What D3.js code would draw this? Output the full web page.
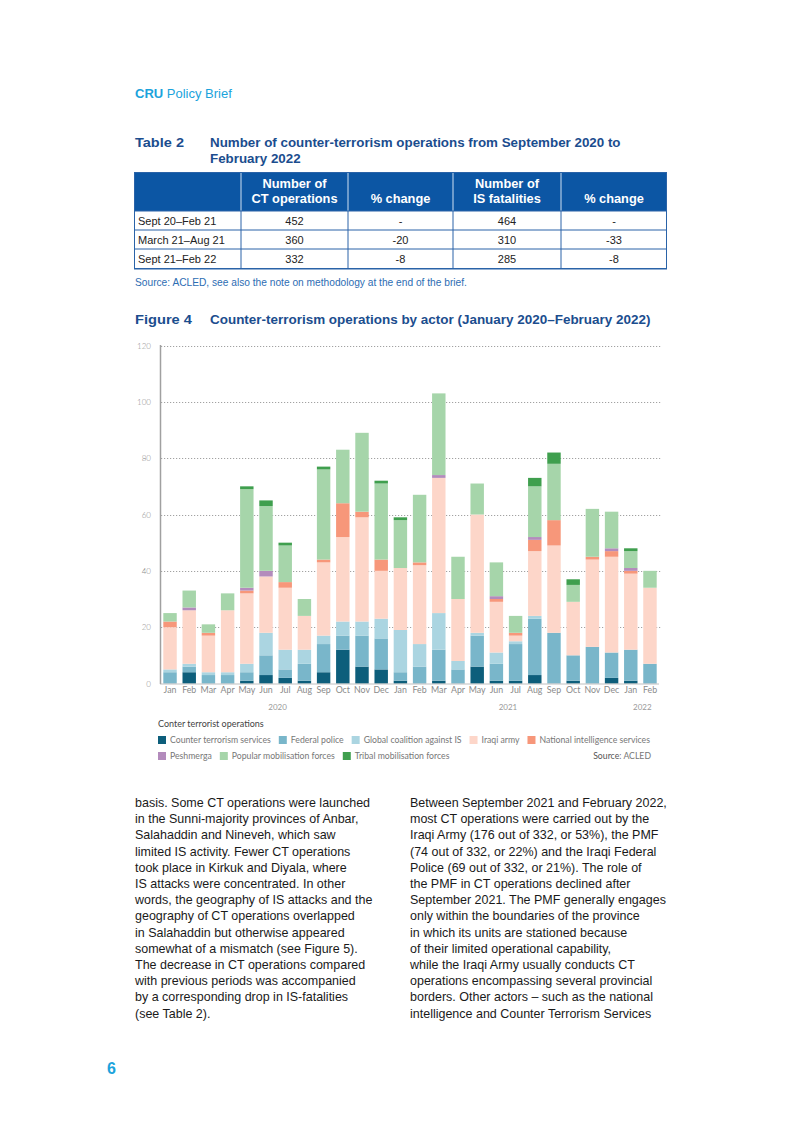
<!DOCTYPE html>
<html><head><meta charset="utf-8">
<script src="https://cdn.jsdelivr.net/npm/d3@7"></script>
<style>body{margin:0;background:#fff}svg{display:block}</style>
</head><body>
<svg id="page" width="802" height="1133"></svg>
<script>
// ---------- DATA ----------
const periods = ["2020-01","2020-02","2020-03","2020-04","2020-05","2020-06","2020-07","2020-08","2020-09","2020-10","2020-11","2020-12",
                 "2021-01","2021-02","2021-03","2021-04","2021-05","2021-06","2021-07","2021-08","2021-09","2021-10","2021-11","2021-12",
                 "2022-01","2022-02"];
const monthLabels = ["Jan","Feb","Mar","Apr","May","Jun","Jul","Aug","Sep","Oct","Nov","Dec",
                     "Jan","Feb","Mar","Apr","May","Jun","Jul","Aug","Sep","Oct","Nov","Dec","Jan","Feb"];
const yearLabels = ["2020","2021","2022"];
const yTicks = [0,20,40,60,80,100,120];

const seriesNames = ["Counter terrorism services","Federal police","Global coalition against IS","Iraqi army",
                     "National intelligence services","Peshmerga","Popular mobilisation forces","Tribal mobilisation forces"];
const seriesColors = ["#0d5e7b","#79b6ca","#abd5e1","#fdd6c9","#f7977a","#b38bbc","#a6d5aa","#3f9f4e"];

const cts    = [0,4,0,0,1,3,2,1,4,12,6,5,1,0,1,0,6,1,1,3,0,1,0,2,1,0];
const fp     = [4,2,3,3,3,7,3,6,10,5,11,11,3,6,11,5,11,6,13,20,18,9,13,9,11,7];
const gc     = [1,1,1,1,3,8,7,5,3,5,5,7,15,8,13,3,1,4,1,1,0,0,0,0,0,0];
const ia     = [15,19,13,22,25,20,22,12,26,30,37,17,22,28,48,22,42,18,2,23,31,19,31,34,27,27];
const nis    = [2,0,1,0,1,0,2,0,1,12,2,4,0,1,0,0,0,1,1,4,9,0,1,2,1,0];
const pesh   = [0,1,0,0,1,2,0,0,0,0,0,0,0,0,1,0,0,1,0,1,0,0,0,1,1,0];
const pmf    = [3,6,3,6,35,23,13,6,32,19,28,27,17,24,29,15,11,12,6,18,20,6,17,13,6,6];
const tribal = [0,0,0,0,1,2,1,0,1,0,0,1,1,0,0,0,0,0,0,3,4,2,0,0,1,0];

const tableHeaders = [["",""],["Number of","CT operations"],["","% change"],["Number of","IS fatalities"],["","% change"]];
const tablePeriods = ["Sept 20–Feb 21","March 21–Aug 21","Sept 21–Feb 22"];
const ctOps = ["452","360","332"];
const ctChange = ["-","-20","-8"];
const isFatal = ["464","310","285"];
const isChange = ["-","-33","-8"];

const leftText = [
"basis. Some CT operations were launched",
"in the Sunni-majority provinces of Anbar,",
"Salahaddin and Nineveh, which saw",
"limited IS activity. Fewer CT operations",
"took place in Kirkuk and Diyala, where",
"IS attacks were concentrated. In other",
"words, the geography of IS attacks and the",
"geography of CT operations overlapped",
"in Salahaddin but otherwise appeared",
"somewhat of a mismatch (see Figure 5).",
"The decrease in CT operations compared",
"with previous periods was accompanied",
"by a corresponding drop in IS-fatalities",
"(see Table 2)."];
const rightText = [
"Between September 2021 and February 2022,",
"most CT operations were carried out by the",
"Iraqi Army (176 out of 332, or 53%), the PMF",
"(74 out of 332, or 22%) and the Iraqi Federal",
"Police (69 out of 332, or 21%). The role of",
"the PMF in CT operations declined after",
"September 2021. The PMF generally engages",
"only within the boundaries of the province",
"in which its units are stationed because",
"of their limited operational capability,",
"while the Iraqi Army usually conducts CT",
"operations encompassing several provincial",
"borders. Other actors – such as the national",
"intelligence and Counter Terrorism Services"];

// ---------- PAGE ----------
const svg = d3.select("#page");
const HEAD = "'Liberation Sans', Arial, sans-serif";
const LIGHT = "Lato, 'Open Sans', sans-serif";
const navy = "#1b4d8e", cyan = "#1ba3dc", blue = "#0c56a4";

function fitLine(parent, x, y, str, target, opts) {
  const g = parent.append("g");
  const t = g.append("text").attr("x",0).attr("y",y).text(str);
  Object.entries(opts).forEach(([k,v]) => t.attr(k,v));
  const w = t.node().getComputedTextLength();
  const sx = target / w;
  g.attr("transform", `translate(${x},0) scale(${sx},1)`);
  return sx;
}
function lineWithScale(parent, x, y, str, sx, opts) {
  const g = parent.append("g").attr("transform", `translate(${x},0) scale(${sx},1)`);
  const t = g.append("text").attr("x",0).attr("y",y).text(str);
  Object.entries(opts).forEach(([k,v]) => t.attr(k,v));
}

// Header
const hdr = svg.append("text").attr("x",135).attr("y",98).attr("font-family",HEAD).attr("font-size",13).attr("fill",cyan);
hdr.append("tspan").attr("font-weight","bold").text("CRU");
hdr.append("tspan").text(" Policy Brief");

// Table title
const titleOpts = {"font-family":HEAD,"font-size":13.5,"font-weight":"bold","fill":navy};
fitLine(svg,135,147,"Table 2",49,titleOpts);
const tsx2 = fitLine(svg,210,147,"Number of counter-terrorism operations from September 2020 to",411,titleOpts);
lineWithScale(svg,210,163,"February 2022",tsx2,titleOpts);

// Table
const colX = [134,241,348,453,561,667];
const rowY = [172,211,230,249,269];
const tbl = svg.append("g");
tbl.append("rect").attr("x",colX[0]).attr("y",rowY[0]).attr("width",colX[5]-colX[0]).attr("height",rowY[1]-rowY[0]).attr("fill",blue);
for (let c=1;c<5;c++) {
  tbl.append("line").attr("x1",colX[c]).attr("x2",colX[c]).attr("y1",rowY[0]).attr("y2",rowY[1]).attr("stroke","#cfe0f2").attr("stroke-width",1);
  tbl.append("line").attr("x1",colX[c]).attr("x2",colX[c]).attr("y1",rowY[1]).attr("y2",rowY[4]).attr("stroke","#2a63a8").attr("stroke-width",1);
}
for (let r=1;r<5;r++) tbl.append("line").attr("x1",colX[0]).attr("x2",colX[5]).attr("y1",rowY[r]).attr("y2",rowY[r]).attr("stroke","#2a63a8").attr("stroke-width",1);
tbl.append("rect").attr("x",colX[0]+0.5).attr("y",rowY[0]+0.5).attr("width",colX[5]-colX[0]-1).attr("height",rowY[4]-rowY[0]-1).attr("fill","none").attr("stroke","#2a63a8");
tableHeaders.forEach((h,i) => {
  const cx = (colX[i]+colX[i+1])/2;
  [188,203].forEach((yy,j) => {
    if (!h[j]) return;
    tbl.append("text").attr("x",cx).attr("y",yy).attr("text-anchor","middle").attr("font-family",HEAD)
      .attr("font-size",12.8).attr("font-weight","bold").attr("fill","#fff").text(h[j]);
  });
});
const cellOpts = {"font-family":HEAD,"font-size":11,"fill":"#222"};
tablePeriods.forEach((p,r) => {
  const cy = (rowY[r+1]+rowY[r+2])/2 + 4;
  const t = tbl.append("text").attr("x",colX[0]+4).attr("y",cy).text(p);
  Object.entries(cellOpts).forEach(([k,v]) => t.attr(k,v));
  [ctOps[r],ctChange[r],isFatal[r],isChange[r]].forEach((v,c) => {
    const tt = tbl.append("text").attr("x",(colX[c+1]+colX[c+2])/2).attr("y",cy).attr("text-anchor","middle").text(v);
    Object.entries(cellOpts).forEach(([k,vv]) => tt.attr(k,vv));
  });
});
svg.append("text").attr("x",135).attr("y",286).attr("font-family",HEAD).attr("font-size",10.2).attr("fill","#2d6db3")
  .text("Source: ACLED, see also the note on methodology at the end of the brief.");

// Figure title
fitLine(svg,135,324,"Figure 4",57,titleOpts);
fitLine(svg,210,324,"Counter-terrorism operations by actor (January 2020–February 2022)",441,titleOpts);

// ---------- CHART ----------
const y = d3.scaleLinear().domain([0,120]).range([683.5,345.5]);
const x = d3.scaleBand().domain(periods).range([160.5,659.5]).paddingInner(0.3).paddingOuter(0.146);
const chart = svg.append("g");

chart.append("g").selectAll("line").data(yTicks.filter(d=>d>0)).join("line")
  .attr("x1",161).attr("x2",661).attr("y1",d=>Math.round(y(d))+0.5).attr("y2",d=>Math.round(y(d))+0.5)
  .attr("stroke","#8a8a8a").attr("stroke-width",0.8).attr("stroke-dasharray","1.2,1.8");

chart.append("g").selectAll("text").data(yTicks).join("text")
  .attr("x",151).attr("y",d=>y(d)+3).attr("text-anchor","end").attr("font-family",LIGHT).attr("font-weight",300)
  .attr("font-size",8).attr("fill","#8c8c8c").text(d=>d);

const seriesData = [cts,fp,gc,ia,nis,pesh,pmf,tribal];
const rows = periods.map((p,i) => { const o = {period:p}; seriesNames.forEach((n,k)=>o[n]=seriesData[k][i]); return o; });
const stack = d3.stack().keys(seriesNames)(rows);
chart.append("g").selectAll("g").data(stack).join("g").attr("fill",(d,i)=>seriesColors[i])
  .selectAll("rect").data(d=>d).join("rect")
  .attr("x",d=>x(d.data.period)).attr("width",x.bandwidth())
  .attr("y",d=>y(d[1])).attr("height",d=>y(d[0])-y(d[1]));

chart.append("line").attr("x1",160.5).attr("x2",160.5).attr("y1",345).attr("y2",684).attr("stroke","#a0a0a0").attr("stroke-width",1.5);
chart.append("line").attr("x1",160).attr("x2",659).attr("y1",684).attr("y2",684).attr("stroke","#b0b0b0").attr("stroke-width",0.8);

chart.append("g").selectAll("text").data(periods).join("text")
  .attr("x",d=>x(d)+x.bandwidth()/2).attr("y",693).attr("text-anchor","middle")
  .attr("font-family",LIGHT).attr("font-weight",400).attr("font-size",8.8).attr("fill","#8a8a8a")
  .text((d,i)=>monthLabels[i]);

yearLabels.forEach(yr => {
  const ps = periods.filter(p=>p.startsWith(yr));
  const cx = (x(ps[0]) + x(ps[ps.length-1]) + x.bandwidth())/2;
  chart.append("text").attr("x",cx+2).attr("y",710).attr("text-anchor","middle")
    .attr("font-family",LIGHT).attr("font-weight",400).attr("font-size",8).attr("fill","#999").text(yr);
});

// legend
const leg = svg.append("g");
leg.append("text").attr("x",158).attr("y",727).attr("font-family",LIGHT).attr("font-weight",400).attr("font-size",9).attr("fill","#444").text("Conter terrorist operations");
const probe = leg.append("text").attr("font-family",LIGHT).attr("font-weight",400).attr("font-size",10).text(seriesNames[0]);
const legSize = 10 * 101 / probe.node().getComputedTextLength();
probe.remove();
const legRows = [[0,1,2,3,4],[5,6,7]];
legRows.forEach((idxs,r) => {
  let lx = 158; const ly = 740 + r*16;
  idxs.forEach(i => {
    leg.append("rect").attr("x",lx).attr("y",ly-4).attr("width",8).attr("height",8).attr("fill",seriesColors[i]);
    const t = leg.append("text").attr("x",lx+12).attr("y",ly+3).attr("font-family",LIGHT).attr("font-weight",400)
      .attr("font-size",legSize).attr("fill","#777").text(seriesNames[i]);
    lx = lx + 12 + t.node().getComputedTextLength() + 8;
  });
});
const src = leg.append("text").attr("x",651).attr("y",759).attr("text-anchor","end").attr("font-family",LIGHT)
  .attr("font-size",legSize).attr("fill","#555");
src.append("tspan").attr("font-weight",400).text("Source");
src.append("tspan").attr("font-weight",400).attr("fill","#777").text(": ACLED");

// ---------- BODY TEXT ----------
const bodyOpts = {"font-family":HEAD,"font-size":13.6,"fill":"#1a1a1a"};
const body = svg.append("g");
const probe2 = body.append("text").text(rightText[0]);
Object.entries(bodyOpts).forEach(([k,v]) => probe2.attr(k,v));
const bsx = 257 / probe2.node().getComputedTextLength();
probe2.remove();
leftText.forEach((l,i) => lineWithScale(body,135,807+i*16.2,l,bsx,bodyOpts));
rightText.forEach((l,i) => lineWithScale(body,410,807+i*16.2,l,bsx,bodyOpts));

svg.append("text").attr("x",107).attr("y",1074).attr("font-family",HEAD).attr("font-weight","bold").attr("font-size",16).attr("fill",cyan).text("6");
</script>
</body></html>
